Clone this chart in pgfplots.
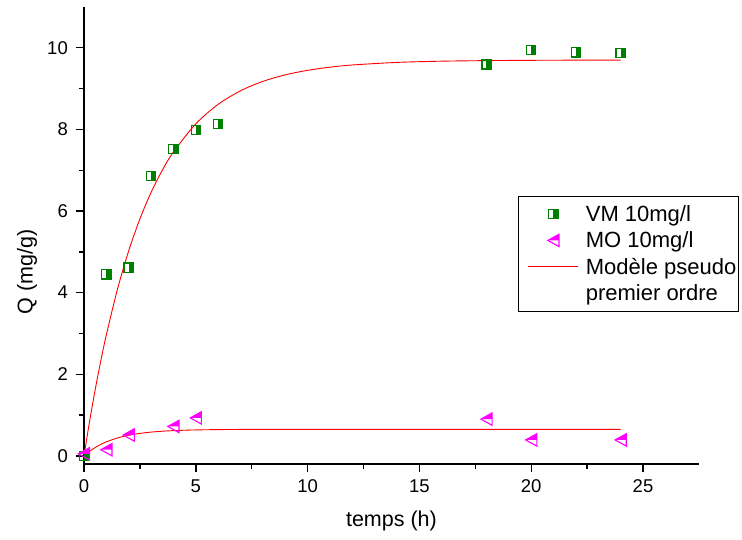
\documentclass[border=0pt]{standalone}
\usepackage{pgfplots}
\pgfplotsset{compat=1.18}
\usepackage{fontspec}
\setmainfont{Liberation Sans}

\definecolor{vmgreen}{RGB}{0,128,0}
\definecolor{momag}{RGB}{255,0,255}
\definecolor{fitred}{RGB}{255,0,0}

% legend samples: a 50pt line, or a single mark at its middle
\pgfplotsset{
  wide line legend/.style={legend image code/.code={%
    \draw[##1] (0pt,0pt) -- (50pt,0pt);
    \path[draw=none, fill=none] (-8pt,0pt) -- (50pt,0pt);}},
  wide mark legend/.style={legend image code/.code={%
    \path[##1] plot coordinates {(25pt,0pt)};
    \path[draw=none, fill=none] (-8pt,0pt) -- (50pt,0pt);}},
}

% square with its right half filled
\pgfdeclareplotmark{halfsq}{%
  \pgfpathrectangle{\pgfpoint{0pt}{-4.6pt}}{\pgfpoint{4.6pt}{9.2pt}}%
  \pgfusepathqfill
  \pgfpathrectangle{\pgfpoint{-4.6pt}{-4.6pt}}{\pgfpoint{9.2pt}{9.2pt}}%
  \pgfusepathqstroke
}
% left-pointing triangle with its upper half filled
\pgfdeclareplotmark{halftri}{%
  \pgfpathmoveto{\pgfpoint{-5.6pt}{0pt}}%
  \pgfpathlineto{\pgfpoint{5.6pt}{6.2pt}}%
  \pgfpathlineto{\pgfpoint{5.6pt}{0pt}}%
  \pgfpathclose
  \pgfusepathqfill
  \pgfpathmoveto{\pgfpoint{-5.6pt}{0pt}}%
  \pgfpathlineto{\pgfpoint{5.6pt}{6.2pt}}%
  \pgfpathlineto{\pgfpoint{5.6pt}{-6.2pt}}%
  \pgfpathclose
  \pgfusepathqstroke
}

\begin{document}
\begin{tikzpicture}
\useasboundingbox (-84pt,-76pt) rectangle (658pt,464pt);
\begin{axis}[
  at={(0pt,0pt)}, anchor=south west,
  scale only axis, width=614.9pt, height=457pt,
  xmin=0, xmax=27.5, ymin=-0.2, ymax=11,
  axis lines*=left,
  axis line style={line width=1.6pt, black},
  tick align=outside,
  major tick length=8pt, minor tick length=5pt,
  every tick/.style={line width=1.4pt, black},
  xtick={0,5,...,25}, ytick={0,2,...,10},
  minor x tick num=1, minor y tick num=1,
  /pgf/number format/assume math mode=true,
  tick label style={font=\fontsize{18.5}{22}\selectfont, inner sep=0pt},
  xticklabel style={anchor=north, yshift=-7.5pt},
  yticklabel style={anchor=east, xshift=-8pt},
  xlabel={temps (h)}, ylabel={Q (mg/g)},
  label style={font=\fontsize{21.5}{26}\selectfont},
  xlabel style={at={(axis description cs:0.5,0)}, anchor=center, yshift=-57pt},
  ylabel style={at={(axis description cs:0,0.42)}, anchor=center, yshift=57pt},
  legend cell align=left,
  legend style={at={(axis description cs:0.7058,0.5864)}, anchor=north west,
    draw=black, line width=0.8pt,
    font=\fontsize{22}{26.5}\selectfont,
    inner xsep=2pt, inner ysep=4.25pt, row sep=0pt, column sep=7pt,
    nodes={inner sep=0pt, text height=20.75pt, text depth=5.75pt}},
]
% pseudo-first-order fits
\addplot[fitred, line width=0.9pt, smooth, forget plot] coordinates {
  (0,0) (0.25,0.846) (0.5,1.618) (0.75,2.323) (1,2.966) (1.5,4.090)
  (2,5.025) (2.5,5.805) (3,6.455) (3.5,6.997) (4,7.448) (5,8.136)
  (6,8.614) (7,8.946) (8,9.177) (9,9.337) (10,9.448) (11,9.525)
  (12,9.579) (14,9.642) (16,9.672) (18,9.686) (20,9.693) (22,9.697) (24,9.698)};
\addplot[fitred, line width=0.9pt, smooth, forget plot] coordinates {
  (0,0) (0.25,0.111) (0.5,0.203) (0.75,0.280) (1,0.343) (1.5,0.439)
  (2,0.505) (2.5,0.550) (3,0.582) (3.5,0.603) (4,0.618) (5,0.635)
  (6,0.643) (7,0.647) (8,0.648) (10,0.650) (15,0.650) (20,0.650) (24,0.650)};

% measured uptake
\addplot[vmgreen, only marks, mark=halfsq, wide mark legend,
  mark options={draw=vmgreen, fill=vmgreen, line width=1.3pt}] coordinates {
  (0,0) (1,4.45) (2,4.61) (3,6.86) (4,7.52) (5,7.98) (6,8.13)
  (18,9.59) (20,9.94) (22,9.89) (24,9.87)};
\addlegendentry{VM 10mg/l}
\addplot[momag, only marks, mark=halftri, wide mark legend,
  mark options={draw=momag, fill=momag, line width=1.1pt}] coordinates {
  (0,0.05) (1,0.15) (2,0.51) (4,0.72) (5,0.93) (18,0.90) (20,0.39) (24,0.39)};
\addlegendentry{MO 10mg/l}

\addlegendimage{fitred, line width=0.9pt, wide line legend}
\addlegendentry{Modèle pseudo}
\addlegendimage{empty legend}
\addlegendentry{premier ordre}
\end{axis}
\end{tikzpicture}
\end{document}
